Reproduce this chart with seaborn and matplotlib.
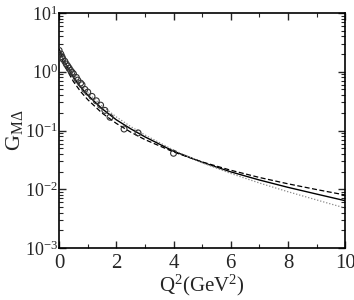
import matplotlib
matplotlib.use("Agg")
import matplotlib.pyplot as plt
import matplotlib.ticker as mticker
import seaborn as sns
import numpy as np

sns.set_style("ticks")
plt.rcParams['font.family'] = ['Liberation Serif', 'DejaVu Serif']
plt.rcParams['mathtext.fontset'] = 'custom'
plt.rcParams['mathtext.rm'] = 'Liberation Serif'
plt.rcParams['mathtext.it'] = 'Liberation Serif'

# model curves
q2 = [0, 0.1, 0.25, 0.5, 0.75, 1.0, 1.5, 2.0, 2.5, 3.0, 4.0, 5.0, 6.0, 7.0, 8.0, 9.0, 10.0]
g_solid = [2.4, 1.83, 1.30, 0.81, 0.55, 0.40, 0.235, 0.152, 0.107, 0.078, 0.0445, 0.0288,
           0.0198, 0.0144, 0.0108, 0.0083, 0.0064]
g_dashed = [2.1, 1.62, 1.12, 0.68, 0.46, 0.335, 0.198, 0.132, 0.094, 0.070, 0.0432, 0.0292,
            0.0211, 0.0159, 0.0124, 0.0099, 0.0080]
g_dotted = [2.2, 1.76, 1.31, 0.85, 0.60, 0.44, 0.262, 0.170, 0.117, 0.084, 0.0465, 0.0283,
            0.0186, 0.0128, 0.0091, 0.0066, 0.0048]

# data points
q2_data = [0.0, 0.06, 0.1, 0.13, 0.2, 0.25, 0.3, 0.35, 0.4, 0.45, 0.5, 0.6, 0.65, 0.75,
           0.8, 0.9, 1.0, 1.15, 1.3, 1.45, 1.6, 1.78, 2.27, 2.76, 4.0]
g_data = [2.3, 2.0, 1.8, 1.65, 1.5, 1.35, 1.25, 1.15, 1.05, 0.98, 0.92, 0.8, 0.72, 0.64,
          0.6, 0.5, 0.45, 0.38, 0.32, 0.27, 0.22, 0.168, 0.106, 0.091, 0.041]

fig = plt.figure(figsize=(3.54, 3.0), dpi=100)
ax = fig.add_axes([0.167, 0.173, 0.808, 0.784])

sns.lineplot(x=q2, y=g_solid, ax=ax, color='black', lw=1.0)
sns.lineplot(x=q2, y=g_dashed, ax=ax, color='black', lw=0.9, linestyle=(0, (4, 2)))
sns.lineplot(x=q2, y=g_dotted, ax=ax, color='#888888', lw=0.9, linestyle=(0, (1, 1.5)))
sns.scatterplot(x=q2_data, y=g_data, ax=ax, marker='o', s=18, facecolor='none',
                edgecolor='#333333', linewidth=0.8, zorder=5)

ax.set_yscale('log')
ax.set_xlim(0, 10)
ax.set_ylim(1e-3, 1e1)
ax.xaxis.set_major_locator(mticker.MultipleLocator(2))
ax.xaxis.set_minor_locator(mticker.MultipleLocator(1))
ax.yaxis.set_major_locator(mticker.LogLocator(base=10, numticks=10))
ax.yaxis.set_minor_locator(mticker.LogLocator(base=10, subs=np.arange(2, 10), numticks=20))
ax.yaxis.set_minor_formatter(mticker.NullFormatter())
ax.yaxis.set_major_formatter(mticker.FuncFormatter(
    lambda v, p: r'$\mathregular{10^{%d}}$' % int(round(np.log10(v)))))

ax.tick_params(which='both', direction='in', top=True, right=True)
ax.tick_params(axis='x', labelsize=15, pad=4)
ax.tick_params(axis='y', labelsize=13, pad=1)
ax.tick_params(which='major', length=5, width=1)
ax.tick_params(which='minor', length=3, width=0.8)
for s in ax.spines.values():
    s.set_linewidth(1.2)
    s.set_color('black')

ax.set_xlabel(r'$\mathregular{Q^2(GeV^2)}$', fontsize=15, labelpad=0)
ax.set_ylabel(r'$\mathregular{G_{M\Delta}}$', fontsize=16)
ax.yaxis.set_label_coords(-0.12, 0.5)

fig.savefig('out.png', dpi=100)
